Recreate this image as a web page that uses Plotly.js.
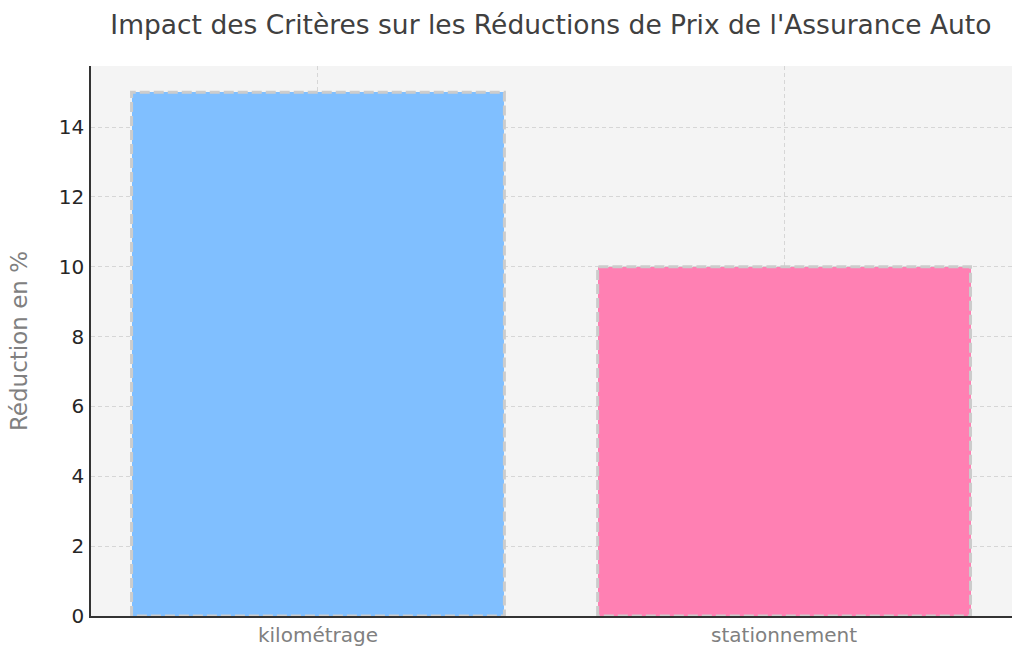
<!DOCTYPE html>
<html>
<head>
<meta charset="utf-8">
<script src="https://cdn.plot.ly/plotly-3.0.1.min.js"></script>
<style>
  html, body { margin: 0; padding: 0; background: #fff; }
  #chart { width: 1024px; height: 654px; }
</style>
</head>
<body>
<div id="chart"></div>
<script>
const categories = ['kilométrage', 'stationnement'];
const reductions = [15, 10];
const barColors = ['#80bfff', '#ff80b3'];

const positions = categories.map((c, i) => i);
const halfWidth = 0.4;

const bars = {
    type: 'bar',
    x: positions,
    y: reductions,
    width: halfWidth * 2,
    marker: { color: barColors, line: { width: 0 } },
    hoverinfo: 'x+y'
};

// dashed outline around each bar, built from the same data
const outlines = reductions.map((v, i) => ({
    type: 'scatter',
    mode: 'lines',
    x: [i - halfWidth, i - halfWidth, i + halfWidth, i + halfWidth, i - halfWidth],
    y: [0, v, v, 0, 0],
    line: { color: '#cccccc', width: 3, dash: '10px,4px' },
    hoverinfo: 'skip',
    showlegend: false
}));

const layout = {
    width: 1024,
    height: 654,
    showlegend: false,
    paper_bgcolor: '#ffffff',
    plot_bgcolor: '#f4f4f4',
    font: { family: 'DejaVu Sans, sans-serif', color: '#333333', size: 18 },
    margin: { l: 91, r: 12, t: 66, b: 38 },
    title: {
        text: "Impact des Critères sur les Réductions de Prix de l'Assurance Auto",
        font: { size: 26.5, color: '#404040' },
        x: 0.538, xanchor: 'center',
        y: 0.962, yanchor: 'middle'
    },
    xaxis: {
        range: [-0.487, 1.489],
        tickvals: positions,
        ticktext: categories,
        tickfont: { color: '#808080', size: 20 },
        ticks: '',
        ticklabelstandoff: 0,
        showgrid: true,
        gridcolor: '#d6d6d6',
        griddash: '4px,3px',
        zeroline: false,
        showline: true,
        linecolor: '#333333',
        linewidth: 1.5,
        fixedrange: true
    },
    yaxis: {
        range: [0, 15.75],
        dtick: 2,
        tickfont: { color: '#262626', size: 20 },
        ticks: '',
        ticklabelstandoff: 1,
        showgrid: true,
        gridcolor: '#d6d6d6',
        griddash: '4px,3px',
        zeroline: false,
        showline: true,
        linecolor: '#333333',
        linewidth: 1.5,
        title: { text: 'Réduction en %', font: { size: 23, color: '#808080' }, standoff: 25 },
        fixedrange: true
    },
    bargap: 0
};

Plotly.newPlot('chart', [bars].concat(outlines), layout, { displayModeBar: false, responsive: false });
</script>
</body>
</html>
